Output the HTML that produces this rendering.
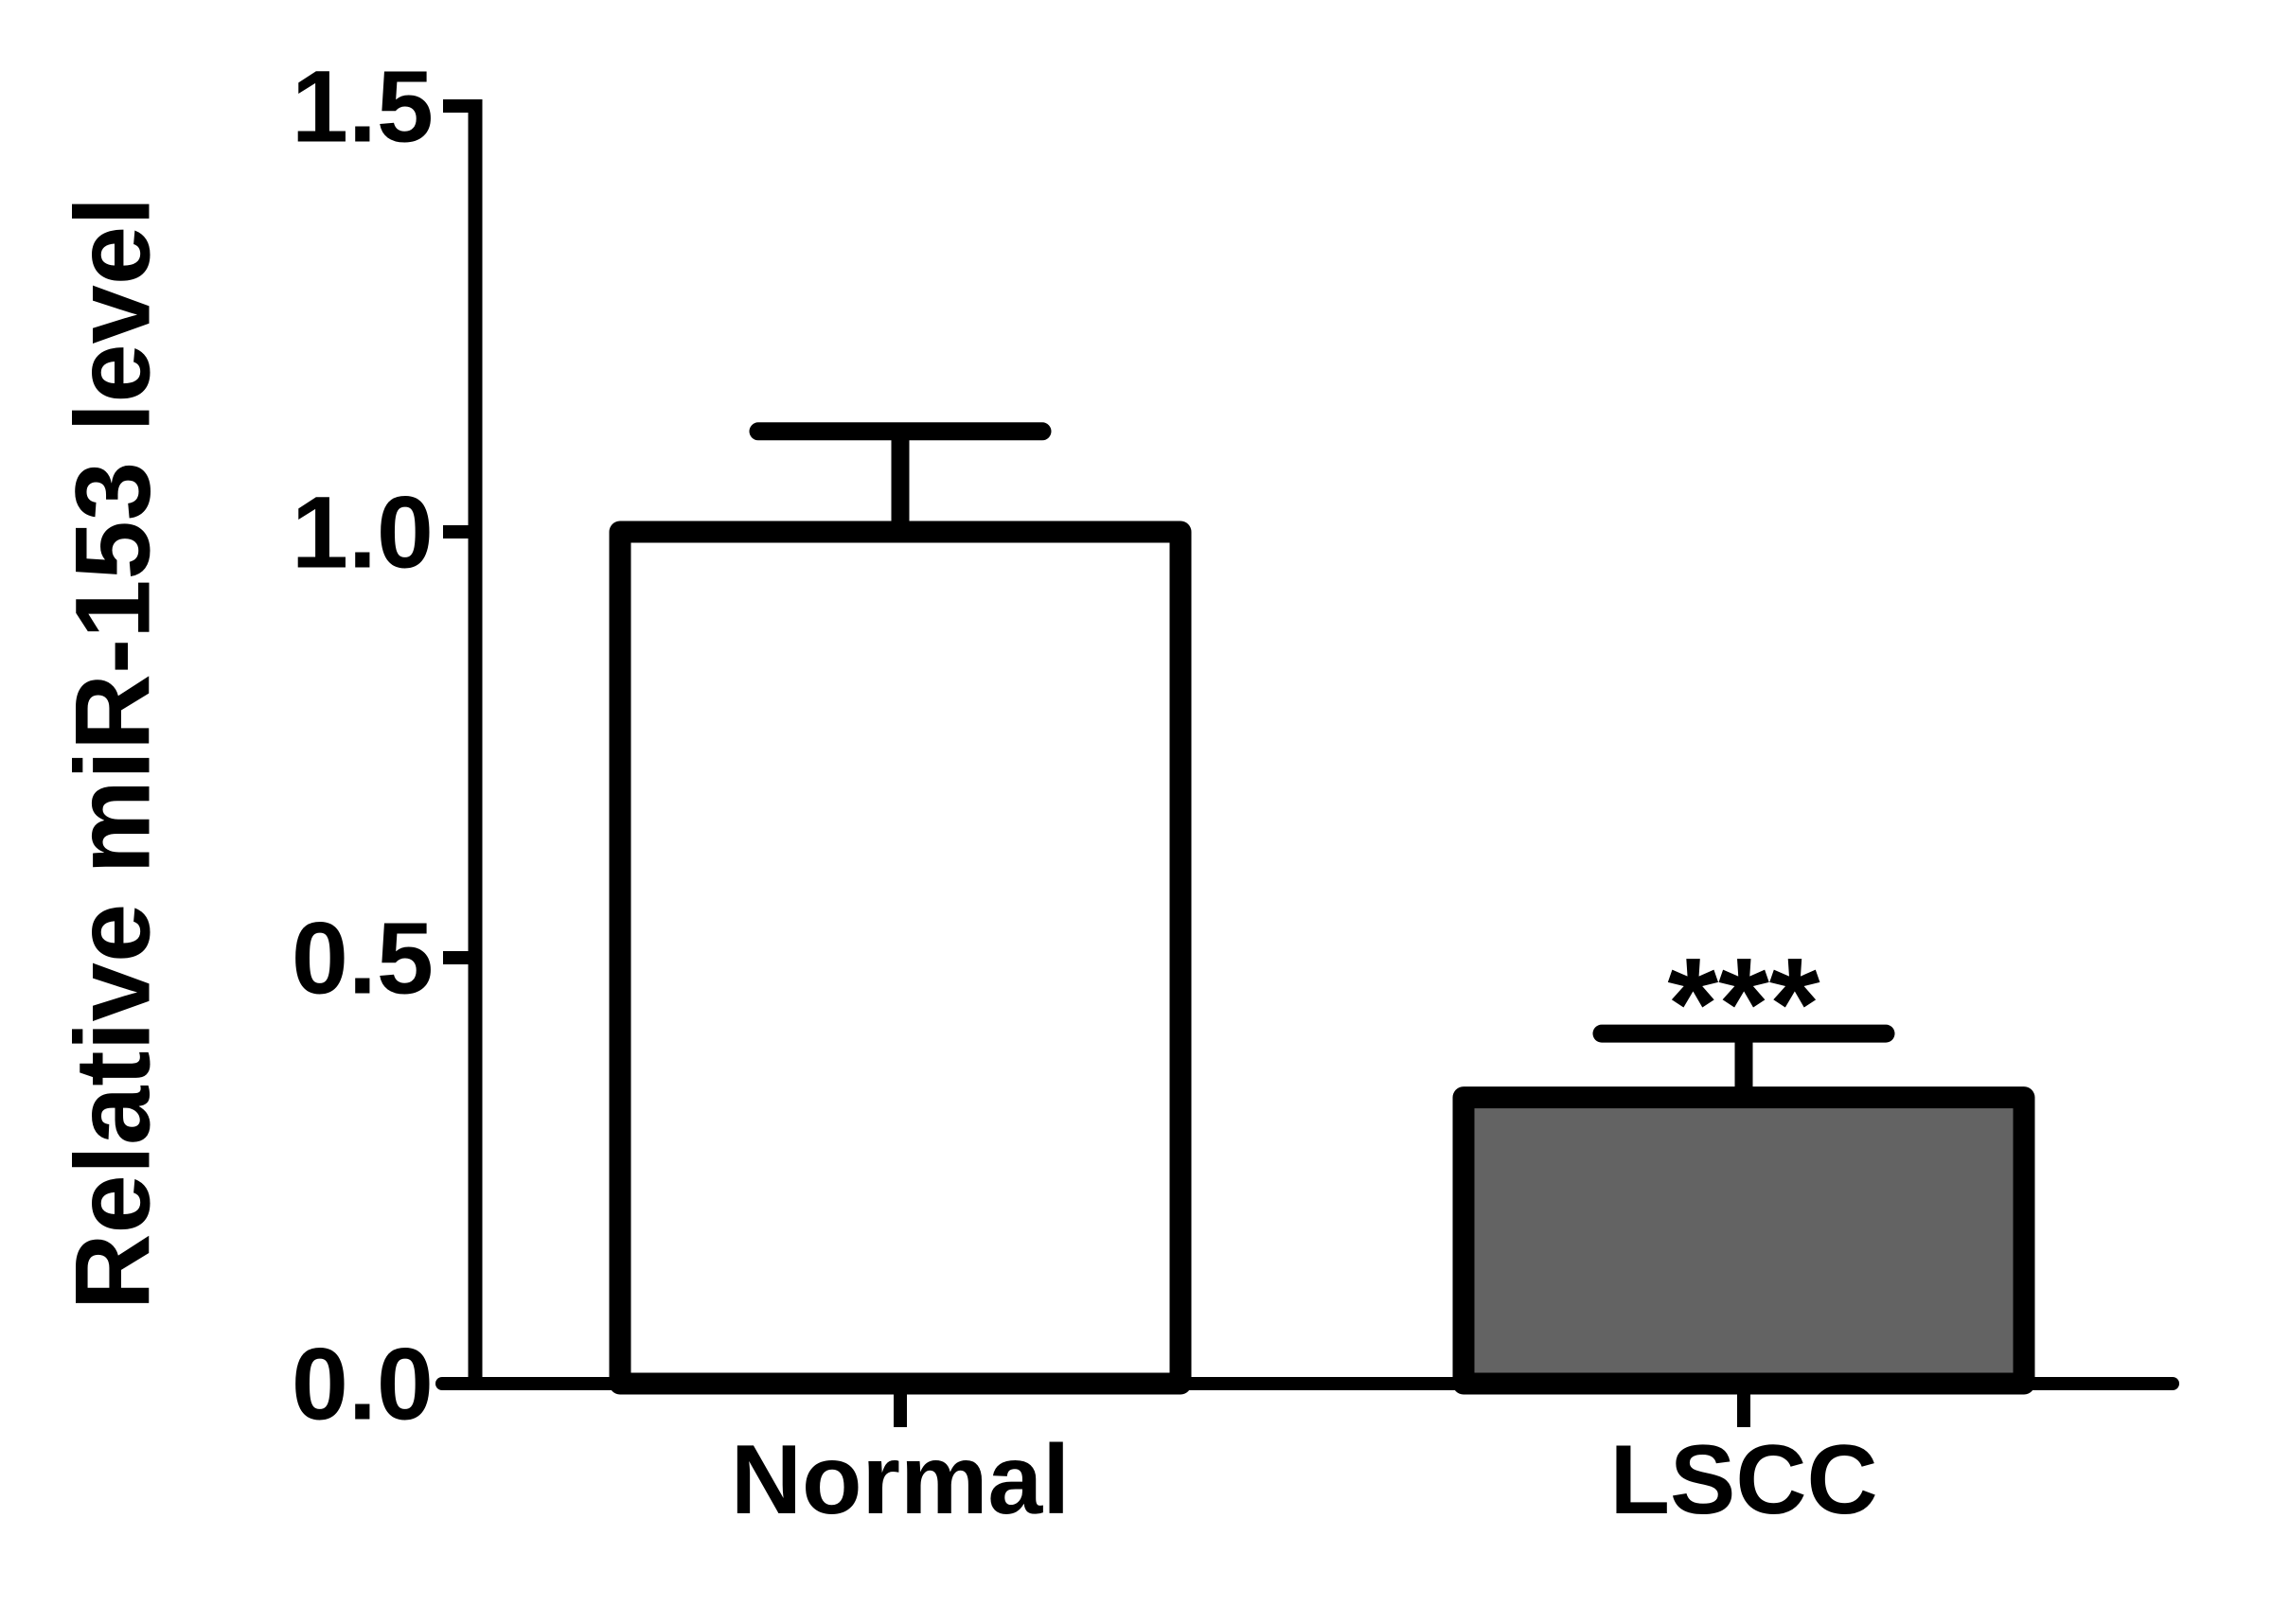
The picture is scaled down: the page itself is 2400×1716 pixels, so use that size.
<!DOCTYPE html>
<html><head><meta charset="utf-8"><style>
html,body{margin:0;padding:0;background:#fff;}
svg{display:block;}
text{font-family:"Liberation Sans",Arial,sans-serif;font-weight:bold;fill:#000;}
</style></head><body>
<svg id="chart" width="2400" height="1716" viewBox="0 0 2400 1716">
<g id="axes"></g><g id="bars"></g>
<text x="119" y="796" font-size="112" text-anchor="middle" dominant-baseline="central" transform="rotate(-90 119 796)">Relative miR-153 level</text>
</svg>
<script>
const categories = ["Normal", "LSCC"];
const values = [1.0, 0.336];
const errors = [0.118, 0.075];
const fills = ["#ffffff", "#636363"];
const yTicks = [0, 0.5, 1.0, 1.5];
const yTickLabels = ["0.0", "0.5", "1.0", "1.5"];
const significance = ["", "***"];

const NS = "http://www.w3.org/2000/svg";
const y0 = 1462, pxPerUnit = 900;
const yScale = v => y0 - v * pxPerUnit;
const xCenters0 = 951, xStep = 891;
const xScale = i => xCenters0 + i * xStep;
const barW = 592;
function mk(tag, attrs, parent, txt){const e=document.createElementNS(NS,tag);for(const k in attrs)e.setAttribute(k,attrs[k]);if(txt!==undefined)e.textContent=txt;parent.appendChild(e);return e;}
const axes=document.getElementById('axes'), bars=document.getElementById('bars');

yTicks.forEach((t,i)=>{
  const y=yScale(t);
  const tk=mk('line',{x1:468,x2:502,y1:y,y2:y,stroke:'#000','stroke-width':14},axes);
  
  
  const lb=mk('text',{x:458,y:y,'font-size':108,'text-anchor':'end','dominant-baseline':'central'},axes,yTickLabels[i]);
  
  
});
const ya=mk('line',{x1:502,x2:502,y1:yScale(1.5)-7,y2:y0+7,stroke:'#000','stroke-width':15},axes);



categories.forEach((c,i)=>{
  const cx=xScale(i), top=yScale(values[i]), et=yScale(values[i]+errors[i]);
  const st=mk('line',{x1:cx,x2:cx,y1:et,y2:top,stroke:'#000','stroke-width':19},bars);
  
  
  const cap=mk('line',{x1:cx-150,x2:cx+150,y1:et,y2:et,stroke:'#000','stroke-width':19,'stroke-linecap':'round'},bars);
  
  
  const r=mk('rect',{x:cx-barW/2,y:top,width:barW,height:y0-top,fill:fills[i],stroke:'#000','stroke-width':23,'stroke-linejoin':'round'},bars);
  
  
  const tk=mk('line',{x1:cx,x2:cx,y1:y0,y2:1508,stroke:'#000','stroke-width':14},bars);
  
  
  const lb=mk('text',{x:cx,y:1564,'font-size':104,'text-anchor':'middle','dominant-baseline':'central'},bars,c);
  
  
  if(significance[i]){
    const s=mk('text',{x:cx,y:et+16,'font-size':138,'text-anchor':'middle'},bars,significance[i]);
    
    
  }
});
const xa=mk('line',{x1:467,x2:2295,y1:y0,y2:y0,stroke:'#000','stroke-width':14,'stroke-linecap':'round'},bars);


</script>
</body></html>
